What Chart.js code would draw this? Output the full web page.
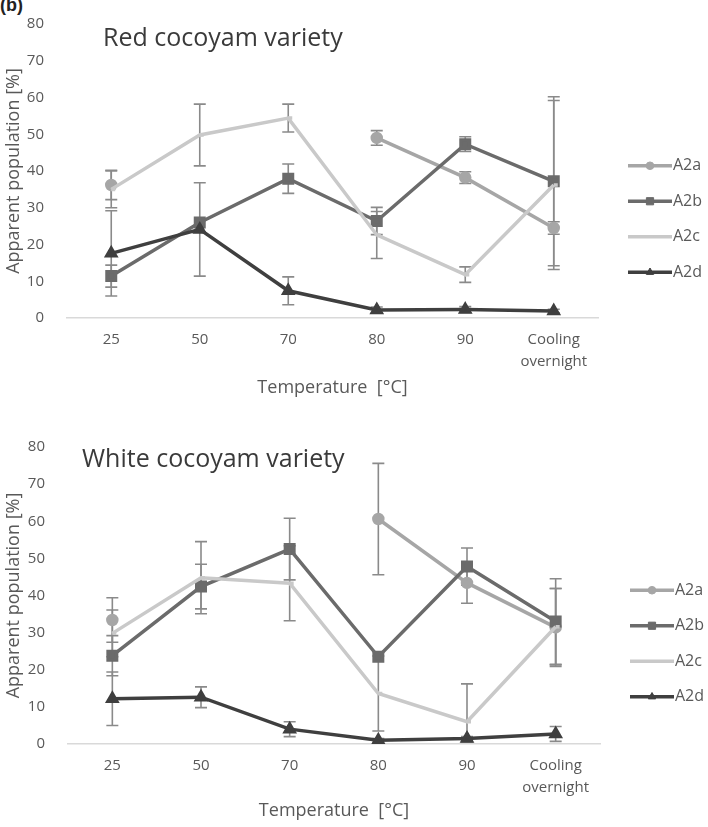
<!DOCTYPE html>
<html>
<head>
<meta charset="utf-8">
<script src="https://cdn.jsdelivr.net/npm/chart.js@4.4.1/dist/chart.umd.min.js"></script>
<style>
  body { margin:0; background:#fff; width:708px; height:827px; position:relative; overflow:hidden; }
  .panel { position:absolute; left:0; width:708px; }
  #tag { position:absolute; left:0; top:-5px; font:bold 18px 'Liberation Sans', Arial, sans-serif; color:#222; }
</style>
</head>
<body>
<div id="tag">(b)</div>
<div class="panel" style="top:0;height:400px"><canvas id="redChart" width="708" height="400"></canvas></div>
<div class="panel" style="top:400px;height:427px"><canvas id="whiteChart" width="708" height="427"></canvas></div>

<script>
  // ---- data ----
  const categories  = ['25', '50', '70', '80', '90', ['Cooling', 'overnight']];
  const seriesNames = ['A2a', 'A2b', 'A2c', 'A2d'];
  const yTicks      = [0, 10, 20, 30, 40, 50, 60, 70, 80];

  // Red cocoyam variety
  const redA2a    = [36.2, null, null, 49.0, 38.2, 24.5];
  const redA2b    = [11.4, 26.0, 37.9, 26.4, 47.3, 37.2];
  const redA2c    = [35.0, 49.8, 54.4, 22.6, 11.8, 36.2];
  const redA2d    = [17.6, 24.1, 7.4, 2.2, 2.3, 1.9];
  const redErrA2a = [4.0, null, null, 2.0, 1.6, 1.7];
  const redErrA2b = [3.0, 0, 4.0, 3.7, 2.0, 23.0];
  const redErrA2c = [5.0, 8.4, 3.8, 6.4, 2.1, 23.0];
  const redErrA2d = [11.6, 12.7, 3.8, 0.8, 0.8, 0.5];

  // White cocoyam variety
  const whiteA2a    = [33.4, null, null, 60.6, 43.4, 31.4];
  const whiteA2b    = [23.8, 42.4, 52.5, 23.5, 47.8, 33.0];
  const whiteA2c    = [29.8, 44.8, 43.3, 13.6, 6.0, 31.6];
  const whiteA2d    = [12.2, 12.6, 4.0, 1.0, 1.5, 2.7];
  const whiteErrA2a = [6.0, null, null, 15.0, 5.5, 10.5];
  const whiteErrA2b = [5.4, 6.0, 8.3, 0, 5.0, 11.5];
  const whiteErrA2c = [6.3, 9.7, 10.1, 10.1, 10.2, 10.3];
  const whiteErrA2d = [7.2, 2.8, 2.0, 0.5, 0.5, 2.0];

  const FONT = "'Open Sans', sans-serif";
  const TXT  = '#595959';
  const styles = [
    { color: '#a6a6a6', point: 'circle',   radius: 4.5 },
    { color: '#6b6b6b', point: 'rect',     radius: 6 },
    { color: '#c9c9c9', point: 'dash',     radius: 4 },
    { color: '#3f3f3f', point: 'triangle', radius: 5 }
  ];

  // error bars, drawn through the y scale
  const errorBars = {
    id: 'errorBars',
    beforeDatasetsDraw(chart) {
      const { ctx, chartArea, scales: { y } } = chart;
      ctx.save();
      ctx.strokeStyle = '#8a8a8a';
      ctx.lineWidth = 1.6;
      chart.data.datasets.forEach((ds, i) => {
        const meta = chart.getDatasetMeta(i);
        ds.errors.forEach((e, j) => {
          const v = ds.data[j];
          if (v == null || !e) return;
          const x = meta.data[j].x;
          const yt = y.getPixelForValue(v + e);
          const yb = Math.min(y.getPixelForValue(v - e), chartArea.bottom - 2);
          ctx.beginPath();
          ctx.moveTo(x, yt); ctx.lineTo(x, yb);
          ctx.moveTo(x - 6, yt); ctx.lineTo(x + 6, yt);
          ctx.moveTo(x - 6, yb); ctx.lineTo(x + 6, yb);
          ctx.stroke();
        });
      });
      ctx.restore();
    }
  };

  // panel title inside the plot and the line+marker legend on the right
  const panelDecor = {
    id: 'panelDecor',
    afterDraw(chart, args, opts) {
      const { ctx, chartArea } = chart;
      ctx.save();
      ctx.fillStyle = '#3a3a3a';
      ctx.font = '25px ' + FONT;
      ctx.textBaseline = 'middle';
      ctx.fillText(opts.title, opts.titleX, chartArea.top + opts.titleDy);

      const mid = (chartArea.top + chartArea.bottom) / 2 + 48;
      const step = 35.5;
      const x0 = chartArea.right + 30;
      chart.data.datasets.forEach((ds, i) => {
        const yy = mid + (i - 1.5) * step;
        ctx.strokeStyle = ds.borderColor;
        ctx.fillStyle = ds.borderColor;
        ctx.lineWidth = 3.5;
        ctx.beginPath(); ctx.moveTo(x0, yy); ctx.lineTo(x0 + 44, yy); ctx.stroke();
        ctx.lineWidth = 1;
        Chart.helpers.drawPoint(ctx, {
          pointStyle: ds.pointStyle, radius: ds.pointRadius * 0.85, rotation: 0, borderWidth: 1
        }, x0 + 22, yy);
        ctx.fillStyle = TXT;
        ctx.font = '16px ' + FONT;
        ctx.fillText(ds.label, x0 + 45, yy);
      });
      ctx.restore();
    }
  };

  function makeChart(id, series, errors, cfg) {
    const datasets = seriesNames.map((name, i) => ({
      label: name,
      data: series[i],
      errors: errors[i],
      borderColor: styles[i].color,
      backgroundColor: styles[i].color,
      pointBackgroundColor: styles[i].color,
      pointBorderColor: styles[i].color,
      pointStyle: styles[i].point,
      pointRadius: styles[i].radius,
      borderWidth: 3.5,
      tension: 0,
      spanGaps: false,
      order: 4 - i
    }));

    return new Chart(document.getElementById(id), {
      type: 'line',
      data: { labels: categories, datasets },
      plugins: [errorBars, panelDecor],
      options: {
        responsive: false,
        animation: false,
        layout: { padding: { left: 0, top: cfg.top, right: cfg.right, bottom: 0 } },
        plugins: {
          legend: { display: false },
          tooltip: { enabled: false },
          panelDecor: { title: cfg.title, titleX: cfg.titleX, titleDy: cfg.titleDy }
        },
        scales: {
          x: {
            offset: true,
            afterFit: s => { s.height = cfg.xHeight; },
            grid: { display: true, drawOnChartArea: false, drawTicks: false, offset: true },
            border: { display: true, color: '#d9d9d9', width: 1.5 },
            ticks: { color: TXT, padding: 11, maxRotation: 0, autoSkip: false,
                     font: { family: FONT, size: 15, lineHeight: 1.45 } },
            title: { display: true, text: 'Temperature  [°C]', color: TXT,
                     font: { family: FONT, size: 18 }, padding: { top: 0, bottom: cfg.xTitlePad } }
          },
          y: {
            min: 0, max: 80,
            afterFit: s => { s.width = cfg.yWidth; },
            afterBuildTicks: s => { s.ticks = yTicks.map(v => ({ value: v })); },
            grid: { display: false },
            border: { display: false },
            ticks: { color: TXT, padding: 15, font: { family: FONT, size: 15 } },
            title: { display: true, text: 'Apparent population [%]', color: TXT,
                     font: { family: FONT, size: 18 }, padding: { top: 3, bottom: 0 } }
          }
        }
      }
    });
  }

  makeChart('redChart',
    [redA2a, redA2b, redA2c, redA2d],
    [redErrA2a, redErrA2b, redErrA2c, redErrA2d],
    { top: 24, right: 110, yWidth: 67, xHeight: 82, xTitlePad: 1,
      title: 'Red cocoyam variety', titleX: 103, titleDy: 15 });

  makeChart('whiteChart',
    [whiteA2a, whiteA2b, whiteA2c, whiteA2d],
    [whiteErrA2a, whiteErrA2b, whiteErrA2c, whiteErrA2d],
    { top: 47, right: 108, yWidth: 68, xHeight: 83, xTitlePad: 5,
      title: 'White cocoyam variety', titleX: 82, titleDy: 13 });
</script>
</body>
</html>
